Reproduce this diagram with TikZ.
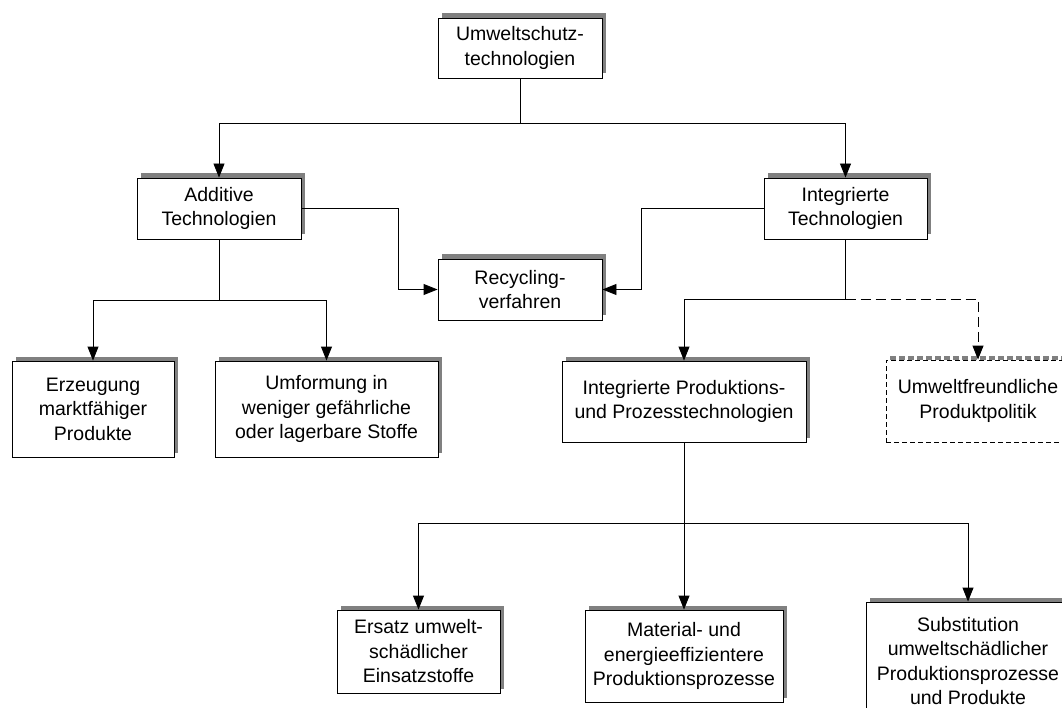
\documentclass[tikz,border=0pt]{standalone}
\usepackage{fontspec}
\setmainfont{Liberation Sans}
\usetikzlibrary{arrows.meta,shadows,calc}
\definecolor{shadowgray}{RGB}{128,128,128}
\tikzset{
  box/.style={draw=black, line width=0.9pt, fill=white, align=center,
    inner sep=0pt, font=\fontsize{19.5}{24.5}\selectfont,
    general shadow={fill=shadowgray, shadow xshift=4pt, shadow yshift=4.5pt}},
  dbox/.style={draw=black, line width=0.9pt, dash pattern=on 5pt off 3pt,
    fill=white, align=center, inner sep=0pt,
    font=\fontsize{19.5}{24.5}\selectfont},
  dshadow/.style={draw=shadowgray, line width=4pt, dash pattern=on 6pt off 3pt},
  conn/.style={line width=0.9pt, -{Triangle[length=14pt,width=11pt]}},
  dconn/.style={conn, dash pattern=on 10pt off 5pt}
}
\begin{document}
\begin{tikzpicture}[x=1pt, y=-1pt]
\useasboundingbox (0,0) rectangle (1062,708);
\clip (0,0) rectangle (1062,708);

% boxes
\node[box, minimum width=164pt, minimum height=60pt] (top) at (520,48) {Umweltschutz-\\technologien};
\node[box, minimum width=164pt, minimum height=61pt] (add) at (219,208.5) {Additive\\Technologien};
\node[box, minimum width=163pt, minimum height=61pt] (integ) at (845.5,208.5) {Integrierte\\Technologien};
\node[box, minimum width=164pt, minimum height=61pt] (rec) at (520,289.5) {Recycling-\\verfahren};
\node[box, minimum width=162pt, minimum height=96pt] (erz) at (93,409) {Erzeugung\\marktfähiger\\Produkte};
\node[box, minimum width=223pt, minimum height=96pt] (umf) at (326.5,409) {Umformung in\\weniger gefährliche\\oder lagerbare Stoffe};
\node[box, minimum width=244pt, minimum height=81pt] (ipp) at (684,401.5) {Integrierte Produktions-\\und Prozesstechnologien};

% dashed box with its dashed shadow along the top and right edges
\draw[dshadow] (890,358) -- (1076,358) -- (1076,440);
\node[dbox, minimum width=184pt, minimum height=82pt] (uwf) at (978,401) {Umweltfreundliche\\Produktpolitik};

\node[box, minimum width=163pt, minimum height=83pt] (ers) at (418.5,651.5) {Ersatz umwelt-\\schädlicher\\Einsatzstoffe};
\node[box, minimum width=198pt, minimum height=92pt] (mat) at (684,656) {Material- und\\energieeffizientere\\Produktionsprozesse};
\node[box, minimum width=204pt, minimum height=118pt] (sub) at (968,661) {Substitution\\umweltschädlicher\\Produktionsprozesse\\und Produkte};

% connectors
\draw[conn] (top.south) -- ++(0,45) -| (add.north);
\draw[conn] (top.south) -- ++(0,45) -| (integ.north);

\draw[conn] (add.east) -- ++(97,0) |- (rec.west);
\draw[conn] (integ.west) -- ++(-122,0) |- (rec.east);

\draw[conn] (add.south) -- ++(0,61) -| (erz.north);
\draw[conn] (add.south) -- ++(0,61) -| (umf.north);

\draw[conn] (integ.south) -- ++(0,60) -| (ipp.north);
\draw[dconn] (integ.south) ++(0,60) -| (uwf.north);

\draw[conn] (ipp.south) -- ++(0,81) -| (ers.north);
\draw[conn] (ipp.south) -- (mat.north);
\draw[conn] (ipp.south) -- ++(0,81) -| (sub.north);
\end{tikzpicture}
\end{document}
